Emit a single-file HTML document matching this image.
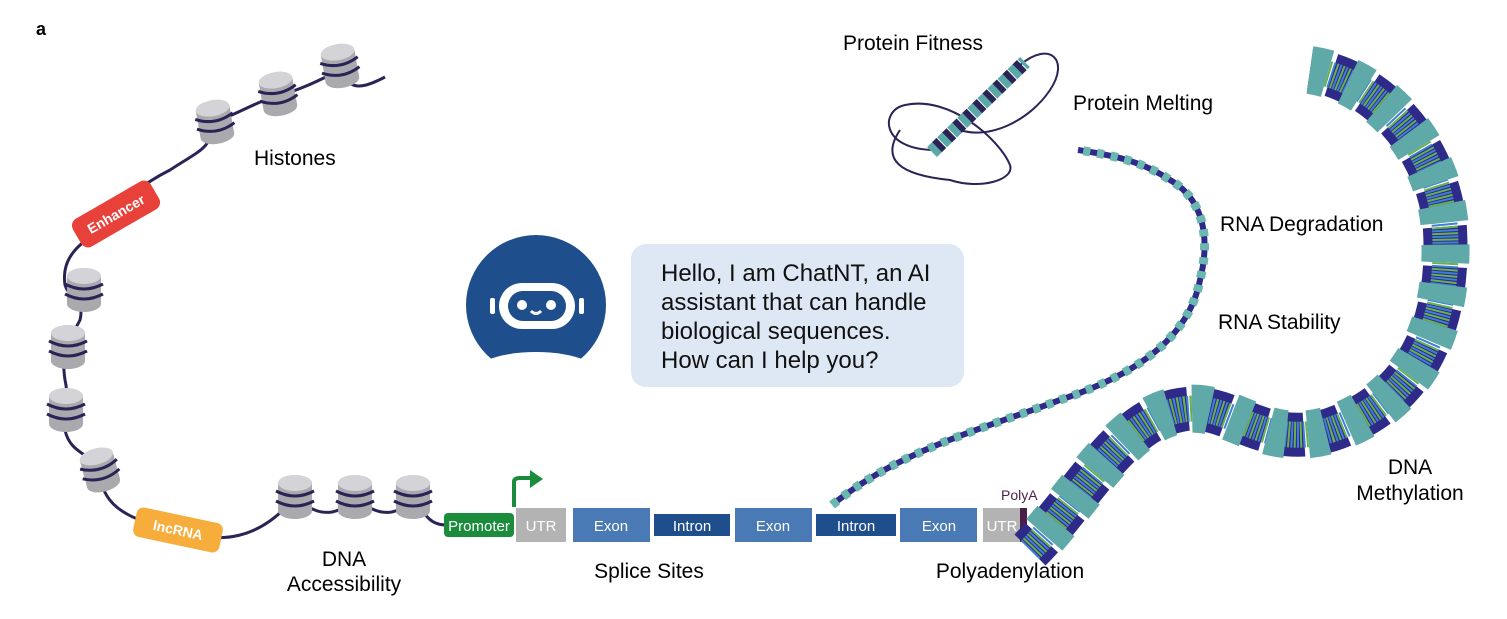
<!DOCTYPE html>
<html><head><meta charset="utf-8"><style>
body{margin:0;background:#fff;}
svg{display:block;font-family:"Liberation Sans",Arial,sans-serif;}
</style></head><body>
<svg width="1507" height="619" viewBox="0 0 1507 619" xmlns="http://www.w3.org/2000/svg">
<defs>
<g id="hist">
  <ellipse cx="0" cy="-14" rx="17" ry="8" fill="#c8c8cc"/>
  <rect x="-17" y="-14" width="34" height="28" fill="#a9a9ae"/>
  <ellipse cx="0" cy="14" rx="17" ry="8" fill="#a9a9ae"/>
  <ellipse cx="0" cy="-14" rx="17" ry="8" fill="#d4d4d8"/>
  <path d="M-19,-6 Q0,4 19,-6 M-19,4 Q0,14 19,4" stroke="#2a2456" stroke-width="3" fill="none"/>
</g>
</defs>

<text x="36" y="35" font-size="18" font-weight="bold" fill="#000">a</text>

<path d="M385,77 C360,90 350,90 340,70 C320,80 300,90 280,95 C260,100 235,115 215,122 C210,150 200,150 170,170 C140,185 125,200 110,220 C90,240 60,250 65,285 C70,300 85,300 80,320 C70,340 60,345 65,380 C70,400 60,410 65,430 C70,455 95,455 100,470 C100,500 120,520 178,530 C220,545 260,540 295,497 C320,520 340,515 355,497 C380,520 400,515 413,497 C425,515 430,525 446,525" stroke="#2a2456" stroke-width="3" fill="none"/>
<use href="#hist" x="340" y="66" transform="rotate(-10 340 66)"/>
<use href="#hist" x="278" y="94" transform="rotate(-10 278 94)"/>
<use href="#hist" x="215" y="122" transform="rotate(-10 215 122)"/>
<use href="#hist" x="84" y="290"/>
<use href="#hist" x="68" y="347"/>
<use href="#hist" x="66" y="410"/>
<use href="#hist" x="100" y="470" transform="rotate(-15 100 470)"/>
<use href="#hist" x="295" y="497"/>
<use href="#hist" x="355" y="497"/>
<use href="#hist" x="413" y="497"/>

<g transform="rotate(-30 116 214)"><rect x="71" y="198" width="90" height="32" rx="8" fill="#e8413a"/>
<text x="116" y="219" font-size="14" fill="#fff" text-anchor="middle" font-weight="bold">Enhancer</text></g>
<g transform="rotate(12 178 530)"><rect x="134" y="515" width="88" height="30" rx="7" fill="#f6ad3c"/>
<text x="178" y="535" font-size="14" fill="#fff" text-anchor="middle" font-weight="bold">lncRNA</text></g>

<text x="254" y="165" font-size="21">Histones</text>
<text x="344" y="566" font-size="21" text-anchor="middle">DNA</text>
<text x="344" y="591" font-size="21" text-anchor="middle">Accessibility</text>

<rect x="444" y="513" width="70" height="24" rx="4" fill="#1a8c3c"/>
<text x="479" y="531" font-size="15" fill="#fff" text-anchor="middle">Promoter</text>
<path d="M514,507 V482 Q514,478 520,478 H532" stroke="#1a8c3c" stroke-width="4" fill="none"/>
<polygon points="530,470 543,479 530,488" fill="#1a8c3c"/>
<rect x="516" y="508" width="50" height="34" fill="#b3b3b3"/>
<text x="541" y="531" font-size="15" fill="#fff" text-anchor="middle">UTR</text>
<rect x="573" y="508" width="77" height="34" fill="#4a7ab5"/>
<text x="611" y="531" font-size="15" fill="#fff" text-anchor="middle">Exon</text>
<rect x="654" y="514" width="76" height="22" fill="#1f4e8c"/>
<text x="692" y="531" font-size="15" fill="#fff" text-anchor="middle">Intron</text>
<rect x="735" y="508" width="77" height="34" fill="#4a7ab5"/>
<text x="773" y="531" font-size="15" fill="#fff" text-anchor="middle">Exon</text>
<rect x="816" y="514" width="80" height="22" fill="#1f4e8c"/>
<text x="856" y="531" font-size="15" fill="#fff" text-anchor="middle">Intron</text>
<rect x="900" y="508" width="77" height="34" fill="#4a7ab5"/>
<text x="939" y="531" font-size="15" fill="#fff" text-anchor="middle">Exon</text>
<rect x="983" y="508" width="38" height="34" fill="#b3b3b3"/>
<text x="1002" y="531" font-size="15" fill="#fff" text-anchor="middle">UTR</text>
<rect x="1020" y="508" width="7" height="34" fill="#4a1f4a"/>
<text x="1001" y="500" font-size="14" fill="#4a1f4a">PolyA</text>
<text x="649" y="578" font-size="21" text-anchor="middle">Splice Sites</text>
<text x="1010" y="578" font-size="21" text-anchor="middle">Polyadenylation</text>

<circle cx="536" cy="305" r="70" fill="#1f4e8c"/>
<ellipse cx="536" cy="380" rx="70" ry="28" fill="#fff"/>
<rect x="499" y="283" width="76" height="46" rx="23" fill="#fff"/>
<rect x="508" y="291" width="58" height="30" rx="15" fill="#1f4e8c"/>
<circle cx="522" cy="305" r="5" fill="#fff"/><circle cx="551" cy="305" r="5" fill="#fff"/>
<path d="M531,311 Q536,316 541,311" stroke="#fff" stroke-width="3" fill="none"/>
<rect x="490" y="298" width="5" height="16" rx="2" fill="#fff"/><rect x="579" y="298" width="5" height="16" rx="2" fill="#fff"/>

<rect x="631" y="244" width="333" height="143" rx="15" fill="#dde8f4"/>
<text font-size="24" fill="#111"><tspan x="661" y="281">Hello, I am ChatNT, an AI</tspan><tspan x="661" y="310">assistant that can handle</tspan><tspan x="661" y="339">biological sequences.</tspan><tspan x="661" y="368">How can I help you?</tspan></text>

<path d="M935,150 C880,150 880,110 905,105 C950,95 1000,140 1010,165 C1015,180 980,190 950,180 C900,175 880,160 900,130 M1020,65 C1050,40 1070,60 1050,90 C1030,120 990,140 960,130" stroke="#2a2456" stroke-width="2" fill="none"/>
<path d="M932,152 L1025,62" stroke="#5aa8a8" stroke-width="14" stroke-dasharray="8 6" fill="none"/>
<path d="M932,152 L1025,62" stroke="#2a2456" stroke-width="14" stroke-dasharray="6 8" stroke-dashoffset="7" fill="none"/>
<text x="843" y="50" font-size="21">Protein Fitness</text>
<text x="1073" y="110" font-size="21">Protein Melting</text>

<path d="M832,505 C900,450 980,430 1060,400 C1150,370 1190,330 1200,280 C1210,240 1205,200 1170,180 C1140,160 1110,155 1078,150" stroke="#6bb8b0" stroke-width="9" stroke-dasharray="7 7" fill="none"/>
<path d="M832,505 C900,450 980,430 1060,400 C1150,370 1190,330 1200,280 C1210,240 1205,200 1170,180 C1140,160 1110,155 1078,150" stroke="#2e2a8a" stroke-width="6" stroke-dasharray="7 7" stroke-dashoffset="7" fill="none"/>
<text x="1220" y="231" font-size="21">RNA Degradation</text>
<text x="1218" y="329" font-size="21">RNA Stability</text>

<g fill="none">
<path d="M1310,70 C1380,80 1440,150 1445,230 C1450,320 1420,400 1330,430 C1260,450 1230,400 1180,410 C1120,420 1080,500 1030,550" stroke="#2e2a8a" stroke-width="44" stroke-dasharray="26 14" stroke-dashoffset="18"/>
<path d="M1310,70 C1380,80 1440,150 1445,230 C1450,320 1420,400 1330,430 C1260,450 1230,400 1180,410 C1120,420 1080,500 1030,550" stroke="#6ab04c" stroke-width="26" stroke-dasharray="2 4"/>
<path d="M1310,70 C1380,80 1440,150 1445,230 C1450,320 1420,400 1330,430 C1260,450 1230,400 1180,410 C1120,420 1080,500 1030,550" stroke="#3e7fd8" stroke-width="26" stroke-dasharray="2 4" stroke-dashoffset="3"/>
<path d="M1310,70 C1380,80 1440,150 1445,230 C1450,320 1420,400 1330,430 C1260,450 1230,400 1180,410 C1120,420 1080,500 1030,550" stroke="#5fa9a8" stroke-width="48" stroke-dasharray="18 22"/>
</g>
<text x="1410" y="474" font-size="21" text-anchor="middle">DNA</text>
<text x="1410" y="500" font-size="21" text-anchor="middle">Methylation</text>
</svg>
</body></html>
